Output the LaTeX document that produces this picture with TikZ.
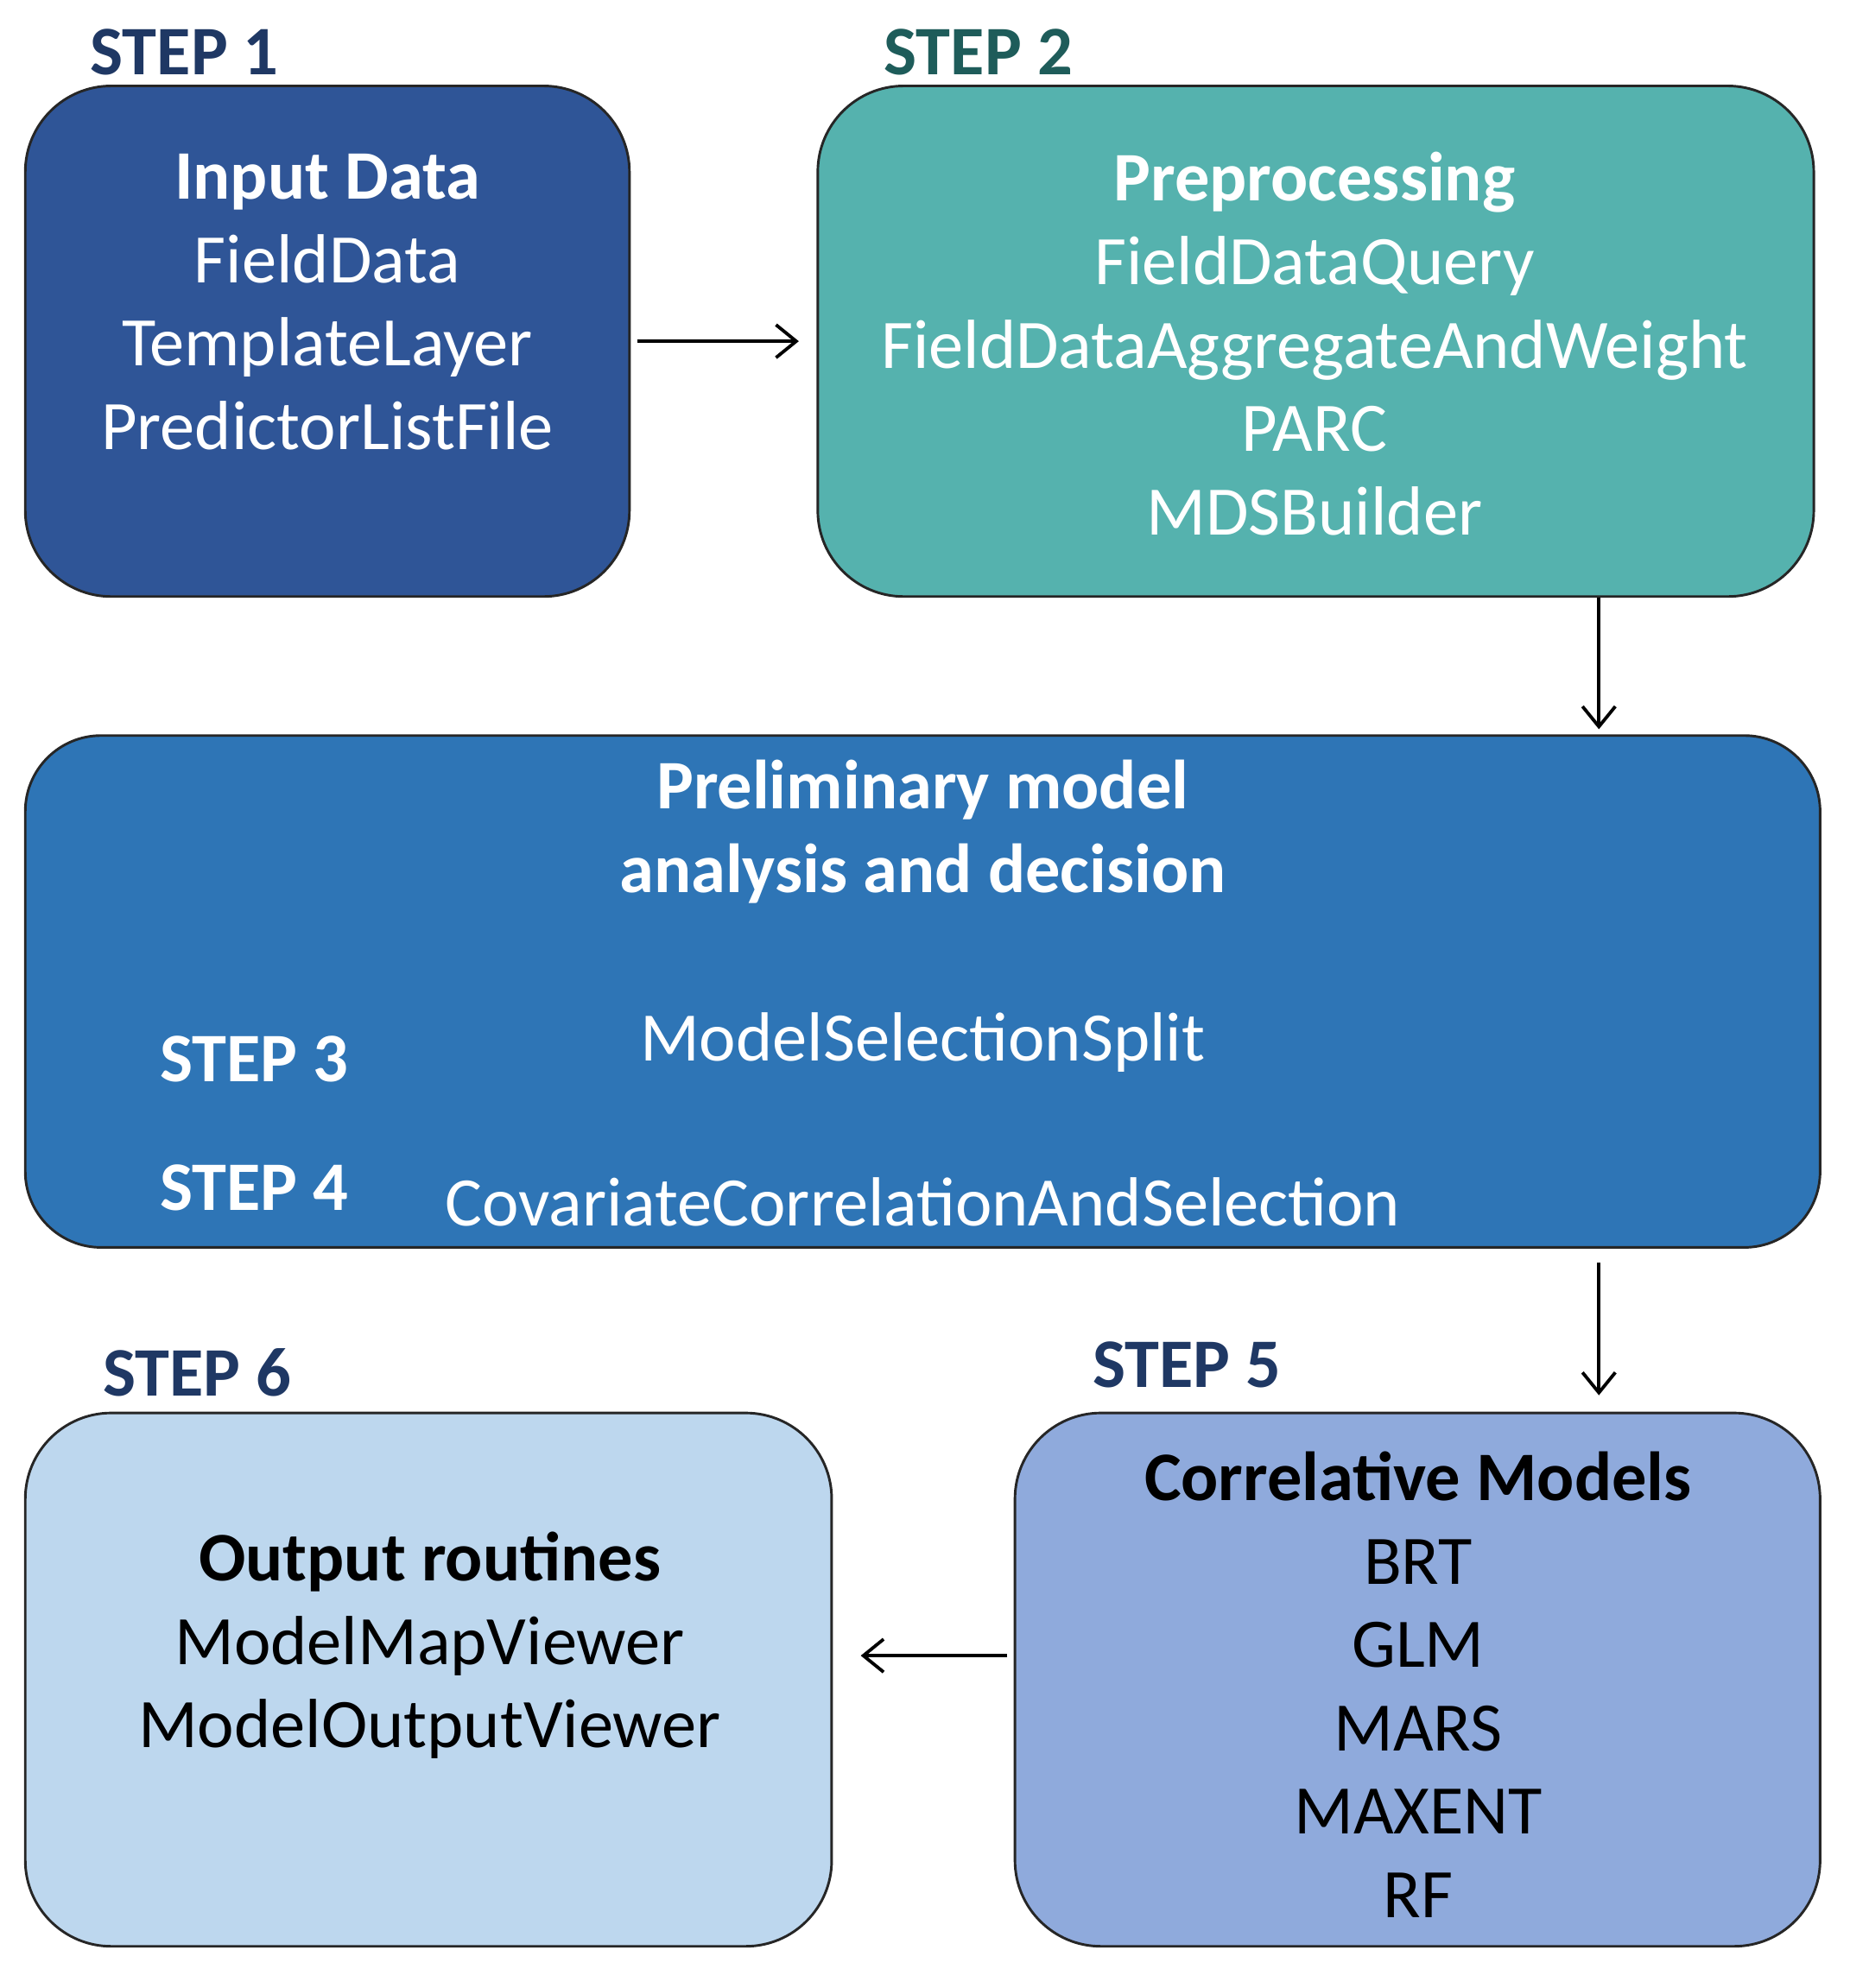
\documentclass[tikz,border=0pt]{standalone}
\usepackage{fontspec}
\setmainfont{Carlito}
\usetikzlibrary{arrows.meta, positioning}
\definecolor{inputblue}{HTML}{2F5597}
\definecolor{prepteal}{HTML}{55B2AE}
\definecolor{prelimblue}{HTML}{2E75B6}
\definecolor{corrblue}{HTML}{8FAADC}
\definecolor{outblue}{HTML}{BDD7EE}
\definecolor{stepnavy}{HTML}{1F3864}
\definecolor{stepteal}{HTML}{1E5C5A}
\newcommand*{\bigtext}{\fontsize{27.5}{33}\selectfont}

\begin{document}
\begin{tikzpicture}[
        x=0.5pt, y=-0.5pt,
        box/.style={draw=black!85, line width=1pt, rounded corners=34pt, inner sep=0pt},
        boxtext/.style={align=center, font=\bigtext, inner sep=0pt},
        steplabel/.style={font=\bigtext\bfseries, inner sep=0pt},
        flow/.style={-{Straight Barb[length=8pt,width=13pt]}, line width=1.3pt},
        ]
        \useasboundingbox (0,0) rectangle (1463,1573);

        % boxes
        \node[box, fill=inputblue, minimum width=239pt, minimum height=202pt]   (input)  at (259,270)     {};
        \node[box, fill=prepteal, minimum width=394pt, minimum height=202pt]    (prep)   at (1041,270)    {};
        \node[box, fill=prelimblue, minimum width=710pt, minimum height=202.5pt,
              rounded corners=30pt]                                             (prelim) at (730,784.5)   {};
        \node[box, fill=corrblue, minimum width=318.5pt, minimum height=211pt]  (corr)   at (1121.5,1329) {};
        \node[box, fill=outblue, minimum width=319pt, minimum height=211pt]     (output) at (339,1329)    {};

        % step labels
        \node[steplabel, text=stepnavy]  (step1) at (146,41)   {STEP 1};
        \node[steplabel, text=stepteal]  (step2) at (774,41)   {STEP 2};
        \node[steplabel, text=white]     (step3) at (201,838)  {STEP 3};
        \node[steplabel, text=white]     (step4) at (201,940)  {STEP 4};
        \node[steplabel, text=stepnavy]  (step5) at (939,1080) {STEP 5};
        \node[steplabel, text=stepnavy]  (step6) at (156,1086) {STEP 6};

        % box contents
        \node[boxtext, text=white] (inputtxt) at (259,239)
            {\textbf{Input Data}\\FieldData\\TemplateLayer\\PredictorListFile};
        \node[boxtext, text=white] (preptxt) at (1040,272)
            {\textbf{Preprocessing}\\FieldDataQuery\\FieldDataAggregateAndWeight\\PARC\\MDSBuilder};
        \node[boxtext, text=white, font=\bigtext\bfseries] (prelimtxt) at (730,658)
            {Preliminary model\\analysis and decision};
        \node[boxtext, text=white] (splittxt) at (730,825)  {ModelSelectionSplit};
        \node[boxtext, text=white] (covtxt)   at (730,951)  {CovariateCorrelationAndSelection};
        \node[boxtext, text=black] (corrtxt)  at (1122,1333)
            {\textbf{Correlative Models}\\BRT\\GLM\\MARS\\MAXENT\\RF};
        \node[boxtext, text=black] (outtxt)   at (340,1302)
            {\textbf{Output routines}\\ModelMapViewer\\ModelOutputViewer};

        % connectors
        \coordinate (drop) at (1265,0);
        \coordinate (back) at (0,1310);
        \draw[flow, shorten <=2.5pt, shorten >=7pt] (input) -- (prep);
        \draw[flow, shorten >=2pt] (prep.south -| drop) -- (prelim.north -| drop);
        \draw[flow, shorten <=5.5pt, shorten >=6.5pt] (prelim.south -| drop) -- (corr.north -| drop);
        \draw[flow, shorten <=2.5pt, shorten >=11pt] (corr.west |- back) -- (output.east |- back);
\end{tikzpicture}
\end{document}
